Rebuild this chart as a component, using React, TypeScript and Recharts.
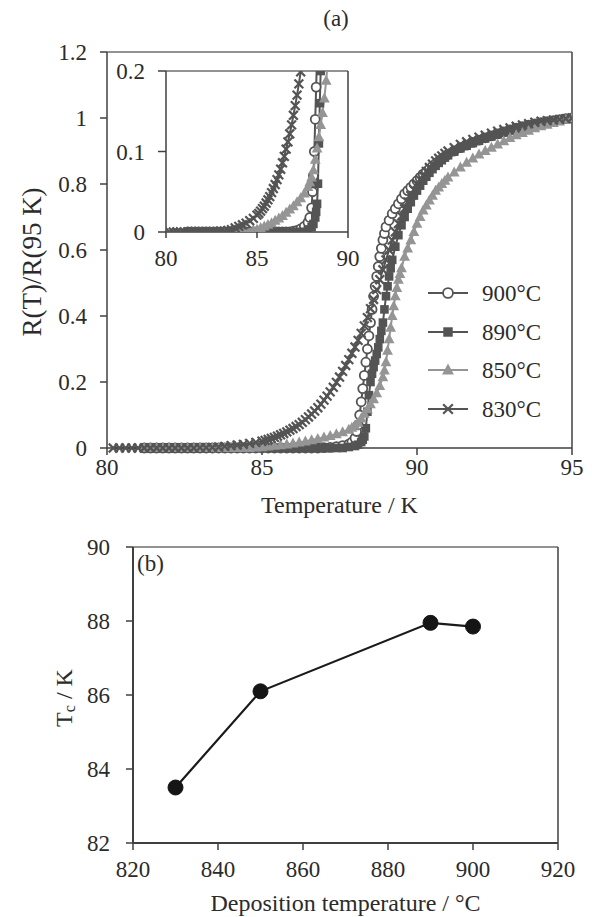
import React from 'react';
import { LineChart, Line, XAxis, YAxis, ReferenceLine, Legend, Label } from 'recharts';

const FONT = '"Liberation Serif", "Times New Roman", serif';
const TEXT = '#2b2b2b';
const AXIS = '#404040';
const BORDER = '#6e6e6e';
const DARK = '#545454';
const LIGHT = '#959595';

// (a) R(T)/R(95 K) vs temperature (K) — [T, R]
const s900: [number, number][] = [
  [81.2, 0], [81.4, 0], [81.6, 0], [81.8, 0], [82.0, 0], [82.2, 0], [82.4, 0], [82.6, 0], [82.8, 0], [83.0, 0],
  [83.2, 0], [83.4, 0], [83.6, 0], [83.8, 0], [84.0, 0], [84.2, 0], [84.4, 0], [84.6, 0], [84.8, 0], [85.0, 0],
  [85.2, 0], [85.4, 0], [85.6, 0], [85.8, 0], [86.0, 0], [86.2, 0], [86.4, 0], [86.6, 0], [86.8, 0],
  [87.0, 0.001], [87.2, 0.002], [87.4, 0.004], [87.6, 0.007], [87.8, 0.012], [87.9, 0.018],
  [88.0, 0.03], [88.05, 0.05], [88.1, 0.07], [88.15, 0.1], [88.2, 0.14], [88.25, 0.18], [88.3, 0.22],
  [88.35, 0.26], [88.4, 0.3], [88.45, 0.34], [88.5, 0.38], [88.55, 0.42], [88.6, 0.46], [88.65, 0.49],
  [88.7, 0.52], [88.75, 0.55], [88.8, 0.58], [88.85, 0.605], [88.9, 0.63], [88.95, 0.65], [89.0, 0.67],
  [89.1, 0.69], [89.2, 0.71], [89.3, 0.725], [89.4, 0.74], [89.5, 0.755], [89.6, 0.77], [89.7, 0.78],
  [89.8, 0.79], [89.9, 0.8], [90.0, 0.81], [90.1, 0.82], [90.2, 0.83], [90.3, 0.838], [90.4, 0.846],
  [90.5, 0.854], [90.6, 0.862], [90.7, 0.869], [90.8, 0.876], [90.9, 0.883], [91.0, 0.89],
  [91.2, 0.9], [91.4, 0.91], [91.6, 0.918], [91.8, 0.926], [92.0, 0.933], [92.2, 0.94], [92.4, 0.946],
  [92.6, 0.952], [92.8, 0.958], [93.0, 0.964], [93.2, 0.969], [93.4, 0.974], [93.6, 0.978], [93.8, 0.982],
  [94.0, 0.986], [94.2, 0.989], [94.4, 0.992], [94.6, 0.995], [94.8, 0.998], [95.0, 1.0],
];

const s890: [number, number][] = [
  [81.2, 0], [81.4, 0], [81.6, 0], [81.8, 0], [82.0, 0], [82.2, 0], [82.4, 0], [82.6, 0], [82.8, 0], [83.0, 0],
  [83.2, 0], [83.4, 0], [83.6, 0], [83.8, 0], [84.0, 0], [84.2, 0], [84.4, 0], [84.6, 0], [84.8, 0], [85.0, 0],
  [85.2, 0], [85.4, 0], [85.6, 0], [85.8, 0], [86.0, 0], [86.2, 0], [86.4, 0], [86.6, 0], [86.8, 0], [87.0, 0],
  [87.2, 0], [87.4, 0], [87.6, 0], [87.8, 0.003], [88.0, 0.006], [88.1, 0.01], [88.2, 0.018], [88.25, 0.025],
  [88.3, 0.035], [88.35, 0.06], [88.4, 0.11], [88.45, 0.16], [88.5, 0.2], [88.55, 0.225], [88.6, 0.245],
  [88.65, 0.265], [88.7, 0.285], [88.75, 0.305], [88.8, 0.33], [88.85, 0.355], [88.9, 0.38], [88.95, 0.42],
  [89.0, 0.46], [89.05, 0.49], [89.1, 0.52], [89.15, 0.545], [89.2, 0.57], [89.3, 0.61], [89.4, 0.645],
  [89.5, 0.675], [89.6, 0.7], [89.7, 0.725], [89.8, 0.745], [89.9, 0.765], [90.0, 0.78], [90.1, 0.795],
  [90.2, 0.81], [90.3, 0.822], [90.4, 0.834], [90.5, 0.845], [90.6, 0.855], [90.7, 0.864], [90.8, 0.872],
  [90.9, 0.88], [91.0, 0.887], [91.2, 0.898], [91.4, 0.908], [91.6, 0.916], [91.8, 0.924], [92.0, 0.931],
  [92.2, 0.938], [92.4, 0.944], [92.6, 0.95], [92.8, 0.956], [93.0, 0.962], [93.2, 0.967], [93.4, 0.972],
  [93.6, 0.977], [93.8, 0.981], [94.0, 0.985], [94.2, 0.989], [94.4, 0.992], [94.6, 0.995], [94.8, 0.998],
  [95.0, 1.0],
];

const s850: [number, number][] = [
  [81.2, 0], [81.4, 0], [81.6, 0], [81.8, 0], [82.0, 0], [82.2, 0], [82.4, 0], [82.6, 0], [82.8, 0], [83.0, 0],
  [83.2, 0], [83.4, 0], [83.6, 0], [83.8, 0], [84.0, 0], [84.2, 0], [84.4, 0], [84.6, 0],
  [84.8, 0.002], [85.0, 0.003], [85.2, 0.005], [85.4, 0.007], [85.6, 0.009], [85.8, 0.011], [86.0, 0.014],
  [86.2, 0.017], [86.4, 0.02], [86.6, 0.024], [86.8, 0.028], [87.0, 0.032], [87.2, 0.037], [87.4, 0.042],
  [87.6, 0.048], [87.8, 0.056], [87.9, 0.062], [88.0, 0.068], [88.1, 0.077], [88.2, 0.09], [88.3, 0.104],
  [88.4, 0.118], [88.5, 0.133], [88.6, 0.148], [88.7, 0.166], [88.8, 0.188], [88.9, 0.215], [88.95, 0.235],
  [89.0, 0.26], [89.05, 0.295], [89.1, 0.33], [89.15, 0.365], [89.2, 0.4], [89.25, 0.43], [89.3, 0.46],
  [89.35, 0.485], [89.4, 0.51], [89.45, 0.528], [89.5, 0.545], [89.6, 0.58], [89.7, 0.605], [89.8, 0.63],
  [89.9, 0.655], [90.0, 0.68], [90.1, 0.7], [90.2, 0.72], [90.3, 0.735], [90.4, 0.75], [90.5, 0.765],
  [90.6, 0.78], [90.7, 0.79], [90.8, 0.8], [90.9, 0.81], [91.0, 0.82], [91.2, 0.835], [91.4, 0.85],
  [91.6, 0.865], [91.8, 0.878], [92.0, 0.89], [92.2, 0.9], [92.4, 0.91], [92.6, 0.92], [92.8, 0.93],
  [93.0, 0.94], [93.2, 0.948], [93.4, 0.955], [93.6, 0.962], [93.8, 0.969], [94.0, 0.975], [94.2, 0.98],
  [94.4, 0.985], [94.6, 0.99], [94.8, 0.995], [95.0, 1.0],
];

const s830: [number, number][] = [
  [80.2, 0], [80.4, 0], [80.6, 0], [80.8, 0], [81.0, 0], [81.2, 0], [81.4, 0], [81.6, 0], [81.8, 0], [82.0, 0],
  [82.2, 0], [82.4, 0], [82.6, 0], [82.8, 0], [83.0, 0.001], [83.2, 0.001], [83.4, 0.002], [83.6, 0.003],
  [83.8, 0.005], [84.0, 0.007], [84.2, 0.009], [84.4, 0.011], [84.6, 0.014], [84.8, 0.017],
  [85.0, 0.021], [85.1, 0.023], [85.2, 0.026], [85.3, 0.029], [85.4, 0.032], [85.5, 0.036], [85.6, 0.04],
  [85.7, 0.044], [85.8, 0.049], [85.9, 0.054], [86.0, 0.059], [86.1, 0.065], [86.2, 0.071], [86.3, 0.078],
  [86.4, 0.086], [86.5, 0.094], [86.6, 0.103], [86.7, 0.112], [86.8, 0.122], [86.9, 0.133], [87.0, 0.145],
  [87.1, 0.157], [87.2, 0.17], [87.3, 0.184], [87.4, 0.199], [87.5, 0.215], [87.6, 0.232], [87.7, 0.25],
  [87.8, 0.268], [87.9, 0.287], [88.0, 0.306], [88.1, 0.326], [88.2, 0.347], [88.3, 0.37], [88.4, 0.395],
  [88.5, 0.422], [88.6, 0.45], [88.7, 0.48], [88.8, 0.51], [88.9, 0.54], [89.0, 0.57], [89.1, 0.6],
  [89.2, 0.63], [89.3, 0.655], [89.4, 0.68], [89.5, 0.703], [89.6, 0.725], [89.7, 0.745], [89.8, 0.765],
  [89.9, 0.783], [90.0, 0.8], [90.1, 0.813], [90.2, 0.825], [90.3, 0.838], [90.4, 0.85], [90.5, 0.86],
  [90.6, 0.87], [90.7, 0.878], [90.8, 0.885], [90.9, 0.893], [91.0, 0.9], [91.2, 0.91], [91.4, 0.92],
  [91.6, 0.928], [91.8, 0.935], [92.0, 0.942], [92.2, 0.948], [92.4, 0.954], [92.6, 0.96], [92.8, 0.965],
  [93.0, 0.97], [93.2, 0.975], [93.4, 0.979], [93.6, 0.983], [93.8, 0.987], [94.0, 0.99], [94.2, 0.992],
  [94.4, 0.994], [94.6, 0.996], [94.8, 0.998], [95.0, 1.0],
];

const seriesNames = ['900°C', '890°C', '850°C', '830°C'];
const seriesMarkers = ['circle', 'square', 'triangle', 'cross'];

const mainXTicks = [80, 85, 90, 95];
const mainYTicks = [0, 0.2, 0.4, 0.6, 0.8, 1, 1.2];
const insetXTicks = [80, 85, 90];
const insetYTicks = [0, 0.1, 0.2];

// (b) Tc vs deposition temperature
const depositionTemps = [830, 850, 890, 900];
const tcValues = [83.5, 86.1, 87.95, 87.85];
const bXTicks = [820, 840, 860, 880, 900, 920];
const bYTicks = [82, 84, 86, 88, 90];

const seriesColors = [DARK, DARK, LIGHT, DARK];
const seriesData = [s900, s890, s850, s830];

const series = seriesNames.map((name, i) => ({
  name,
  marker: seriesMarkers[i],
  color: seriesColors[i],
  rows: seriesData[i].map(([t, r]) => ({ t, r })),
}));

const bRows = depositionTemps.map((d, i) => ({ d, tc: tcValues[i] }));

function Marker({ kind, cx, cy, color, scale = 1 }: any) {
  if (cx == null || cy == null) return null;
  if (kind === 'circle') {
    const r = 4.5 * scale;
    return <circle cx={cx} cy={cy} r={r} fill="#ffffff" stroke={color} strokeWidth={1.8} />;
  }
  if (kind === 'square') {
    const s = 8.6 * scale;
    return <rect x={cx - s / 2} y={cy - s / 2} width={s} height={s} fill={color} />;
  }
  if (kind === 'triangle') {
    const s = 9.8 * scale;
    return (
      <polygon
        points={`${cx},${cy - s * 0.6} ${cx + s * 0.55},${cy + s * 0.42} ${cx - s * 0.55},${cy + s * 0.42}`}
        fill={color}
      />
    );
  }
  const h = 4.4 * scale;
  return (
    <g stroke={color} strokeWidth={2.2}>
      <line x1={cx - h} y1={cy - h} x2={cx + h} y2={cy + h} />
      <line x1={cx - h} y1={cy + h} x2={cx + h} y2={cy - h} />
    </g>
  );
}

const tickStyle = { fontSize: 23, fill: TEXT, fontFamily: FONT };

function renderLegend() {
  const rowY = [19, 58, 96, 135];
  return (
    <svg width={160} height={160} style={{ overflow: 'visible' }}>
      {series.map((s, i) => (
        <g key={s.name}>
          <line x1={8} y1={rowY[i]} x2={48} y2={rowY[i]} stroke={s.color} strokeWidth={2.2} />
          <Marker kind={s.marker} cx={28} cy={rowY[i]} color={s.color} scale={1.1} />
          <text x={62} y={rowY[i]} dominantBaseline="central" fontSize={23} fontFamily={FONT} fill={TEXT}>
            {s.name}
          </text>
        </g>
      ))}
    </svg>
  );
}

function MainChart() {
  return (
    <LineChart width={592} height={520} margin={{ top: 52, right: 20, bottom: 42, left: 0 }}>
      <XAxis
        type="number"
        dataKey="t"
        domain={[80, 95]}
        ticks={mainXTicks}
        allowDataOverflow
        height={30}
        tickSize={7}
        tickMargin={4}
        tick={tickStyle}
        stroke={AXIS}
        axisLine={{ stroke: AXIS, strokeWidth: 1.5 }}
        tickLine={{ stroke: AXIS, strokeWidth: 1.5 }}
      >
        <Label value="Temperature / K" position="bottom" offset={18} style={{ fontSize: 24, fontFamily: FONT, fill: TEXT }} />
      </XAxis>
      <YAxis
        type="number"
        domain={[0, 1.2]}
        ticks={mainYTicks}
        width={107}
        tickSize={7}
        tickMargin={13}
        tick={tickStyle}
        stroke={AXIS}
        axisLine={{ stroke: AXIS, strokeWidth: 1.5 }}
        tickLine={{ stroke: AXIS, strokeWidth: 1.5 }}
      >
        <Label
          content={() => (
            <text
              x={32}
              y={262}
              transform="rotate(-90 32 262)"
              textAnchor="middle"
              dominantBaseline="central"
              fontSize={27}
              fontFamily={FONT}
              fill={TEXT}
            >
              R(T)/R(95 K)
            </text>
          )}
        />
      </YAxis>
      <ReferenceLine y={1.2} stroke={BORDER} strokeWidth={1.5} />
      <ReferenceLine x={95} stroke={AXIS} strokeWidth={1.5} />
      {series.map((s) => (
        <Line
          key={s.name}
          name={s.name}
          data={s.rows}
          dataKey="r"
          type="linear"
          stroke={s.color}
          strokeWidth={2}
          isAnimationActive={false}
          activeDot={false}
          dot={(p: any) => <Marker key={`${s.name}-${p.index}`} kind={s.marker} cx={p.cx} cy={p.cy} color={s.color} />}
        />
      ))}
      <Legend
        layout="vertical"
        align="center"
        verticalAlign="middle"
        content={renderLegend}
        wrapperStyle={{ position: 'absolute', left: 420, top: 274, width: 160, height: 160 }}
      />
    </LineChart>
  );
}

function InsetChart() {
  return (
    <LineChart width={310} height={230} margin={{ top: 21, right: 22, bottom: 18, left: 0 }}>
      <XAxis
        type="number"
        dataKey="t"
        domain={[80, 90]}
        ticks={insetXTicks}
        allowDataOverflow
        height={30}
        tickSize={6}
        tickMargin={12}
        tick={tickStyle}
        axisLine={{ stroke: AXIS, strokeWidth: 1.5 }}
        tickLine={{ stroke: AXIS, strokeWidth: 1.5 }}
      />
      <YAxis
        type="number"
        domain={[0, 0.2]}
        ticks={insetYTicks}
        allowDataOverflow
        width={106}
        tickSize={8}
        tickMargin={13}
        tick={tickStyle}
        axisLine={{ stroke: AXIS, strokeWidth: 1.5 }}
        tickLine={{ stroke: AXIS, strokeWidth: 1.5 }}
      />
      <ReferenceLine y={0.2} stroke={BORDER} strokeWidth={1.5} />
      <ReferenceLine x={90} stroke={AXIS} strokeWidth={1.5} />
      {series.map((s) => (
        <Line
          key={s.name}
          name={s.name}
          data={s.rows.filter((row) => row.t <= 90)}
          dataKey="r"
          type="linear"
          stroke={s.color}
          strokeWidth={2}
          isAnimationActive={false}
          activeDot={false}
          dot={(p: any) =>
            p.payload && p.payload.r <= 0.205 ? (
              <Marker key={`in-${s.name}-${p.index}`} kind={s.marker} cx={p.cx} cy={p.cy} color={s.color} />
            ) : (
              <g key={`in-${s.name}-${p.index}`} />
            )
          }
        />
      ))}
    </LineChart>
  );
}

function ChartB() {
  return (
    <LineChart width={592} height={397} data={bRows} margin={{ top: 27, right: 34, bottom: 44, left: 0 }}>
      <XAxis
        type="number"
        dataKey="d"
        domain={[820, 920]}
        ticks={bXTicks}
        height={30}
        tickSize={7}
        tickMargin={11}
        tick={tickStyle}
        axisLine={{ stroke: AXIS, strokeWidth: 2 }}
        tickLine={{ stroke: AXIS, strokeWidth: 1.5 }}
      >
        <Label value="Deposition temperature / °C" position="bottom" offset={21} style={{ fontSize: 24, fontFamily: FONT, fill: TEXT }} />
      </XAxis>
      <YAxis
        type="number"
        domain={[82, 90]}
        ticks={bYTicks}
        width={133}
        tickSize={7}
        tickMargin={16}
        tick={tickStyle}
        axisLine={{ stroke: AXIS, strokeWidth: 2 }}
        tickLine={{ stroke: AXIS, strokeWidth: 1.5 }}
      >
        <Label
          content={() => (
            <text
              x={64}
              y={178}
              transform="rotate(-90 64 178)"
              textAnchor="middle"
              dominantBaseline="central"
              fontSize={24}
              fontFamily={FONT}
              fill={TEXT}
            >
              T<tspan dy={5} fontSize={16}>c</tspan>
              <tspan dy={-5}> / K</tspan>
            </text>
          )}
        />
      </YAxis>
      <ReferenceLine y={90} stroke={BORDER} strokeWidth={1.5} />
      <ReferenceLine x={920} stroke={AXIS} strokeWidth={1.5} />
      <Line
        dataKey="tc"
        type="linear"
        stroke="#1a1a1a"
        strokeWidth={2.2}
        isAnimationActive={false}
        activeDot={false}
        dot={{ r: 7.5, fill: '#151515', stroke: '#151515', strokeWidth: 1 }}
      />
    </LineChart>
  );
}

export default function App() {
  return (
    <div style={{ position: 'absolute', left: 0, top: 0, width: 592, height: 917, background: '#ffffff', fontFamily: FONT }}>
      <div style={{ position: 'absolute', left: 0, top: 0 }}>
        <MainChart />
      </div>
      <div style={{ position: 'absolute', left: 60, top: 50 }}>
        <InsetChart />
      </div>
      <div style={{ position: 'absolute', left: 0, top: 520 }}>
        <ChartB />
      </div>
      <svg width={592} height={917} style={{ position: 'absolute', left: 0, top: 0, pointerEvents: 'none' }}>
        <text x={336} y={26} textAnchor="middle" fontSize={23} fontFamily={FONT} fill={TEXT}>(a)</text>
        <text x={137} y={571} fontSize={23} fontFamily={FONT} fill={TEXT}>(b)</text>
      </svg>
    </div>
  );
}
